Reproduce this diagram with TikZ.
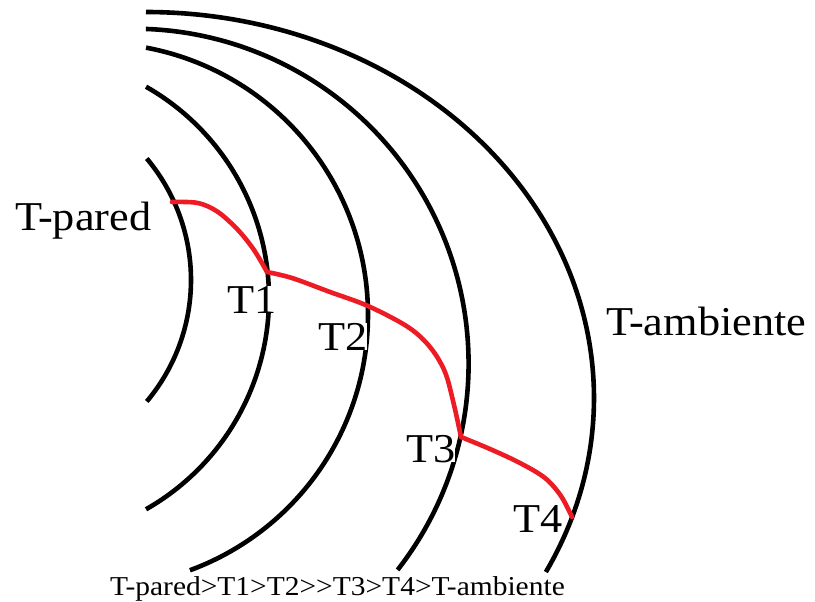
\documentclass[tikz,border=0pt]{standalone}
\usepackage{fontspec}
\setmainfont{Liberation Serif}[FakeStretch=1.08]
\definecolor{paintred}{RGB}{237,28,36}
\tikzset{
  arcline/.style={line width=4.6pt, black},
  redline/.style={line width=4.6pt, paintred, line cap=round, line join=round},
  lbl/.style={anchor=base west, inner sep=0pt, fill=white, font=\fontsize{41}{48}\selectfont},
  bottomlbl/.style={anchor=base west, inner sep=0pt, font=\fontsize{27.3}{32}\selectfont}
}
\begin{document}
\begin{tikzpicture}[x=1pt,y=-1pt]
\useasboundingbox (0,0) rectangle (815,602);
% arcs (layers of the wall)
\draw[arcline] plot[domain=-40:40, samples=90, smooth] ({2+189*cos(\x)},{280+189*sin(\x)});
\draw[arcline] plot[domain=-60.4:60.4, samples=90, smooth] ({26+243*cos(\x)},{298+243*sin(\x)});
\draw[arcline] plot[domain=-79.4:69.8, samples=110, smooth] ({96+272*cos(\x)},{315+272*sin(\x)});
\draw[arcline] plot[domain=-87.9:38, samples=110, smooth] ({133.6+335*cos(\x)},{363.7+335*sin(\x)});
\draw[arcline] plot[domain=-90:26.8, samples=120, smooth] ({146+448*cos(\x)},{398+386*sin(\x)});
% labels
\node[lbl] (tpared) at (15,230) {T-pared};
\node[lbl] (t1) at (227,313) {T1};
\node[lbl] (t2) at (318,350) {T2};
\node[lbl] (t3) at (406,462) {T3};
\node[lbl] (t4) at (513,532) {T4};
\node[lbl] (tamb) at (606,335) {T-ambiente};
\node[bottomlbl] (order) at (110,595) {T-pared>T1>T2>\kern0pt>T3>T4>T-ambiente};
% red temperature profile
\coordinate (p0) at (172,202);
\coordinate (p1) at (267,272);
\coordinate (p2) at (368,306);
\coordinate (p3) at (461,437);
\coordinate (p4) at (572,517);
\draw[redline] plot[smooth, tension=0.55] coordinates {(p0) (198,203) (218,212) (238,230) (254,250) (p1)};
\draw[redline] plot[smooth, tension=0.55] coordinates {(p1) (292,278) (330,292) (p2) (408,327) (430,347) (445,372) (454,405) (p3)};
\draw[redline] plot[smooth, tension=0.55] coordinates {(p3) (490,449) (520,463) (545,478) (561,496) (p4)};
\end{tikzpicture}
\end{document}
